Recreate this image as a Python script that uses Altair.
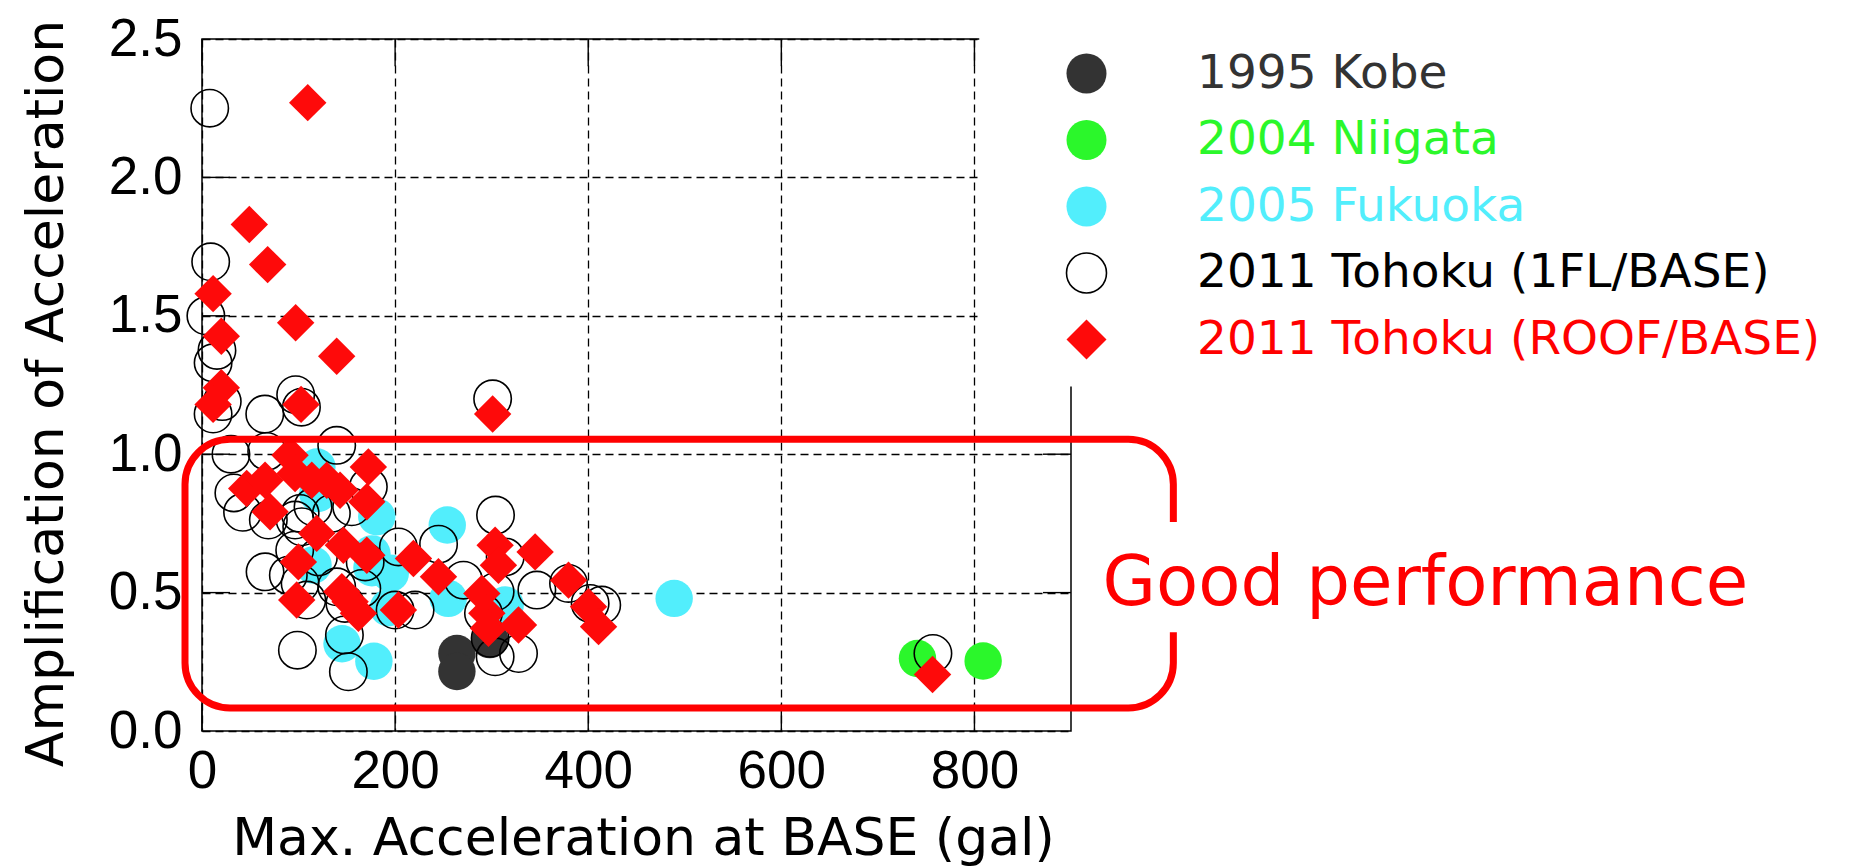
import altair as alt
import pandas as pd

# ---- series names, in legend order ----
SERIES = [
    "1995 Kobe",
    "2004 Niigata",
    "2005 Fukuoka",
    "2011 Tohoku (1FL/BASE)",
    "2011 Tohoku (ROOF/BASE)",
]

# ---- measured values: max. base acceleration (gal) and amplification ----
kobe_x = [264, 264, 298]
kobe_y = [0.28, 0.215, 0.33]

niigata_x = [741, 809]
niigata_y = [0.262, 0.253]

fukuoka_x = [119, 120, 181, 254, 115, 176, 176, 195, 193, 255, 314, 145, 178, 489]
fukuoka_y = [0.954, 0.858, 0.774, 0.744, 0.60, 0.64, 0.59, 0.57, 0.445, 0.479, 0.455, 0.315, 0.252, 0.479]

tohoku_1fl_x = [8, 9, 4, 15.5, 11.5, 21, 11.5, 97, 103, 65, 301,
                139.5, 30, 67,
                33, 42, 68.7, 96.4, 103.3, 101.6, 115, 134, 155, 172.3, 304,
                203.4, 96, 245, 120.6, 169, 314,
                65.3, 89.4, 101.6, 139.5, 165.5, 270.8, 303.6, 346.8, 379.6,
                108.5, 148, 200, 220.7, 291.5, 402, 414,
                147.5, 98.8, 151.6, 298.4, 303.6, 327.8, 757]
tohoku_1fl_y = [2.25, 1.695, 1.50, 1.375, 1.33, 1.19, 1.145, 1.215, 1.17, 1.145, 1.2,
                1.032, 1.0, 1.01,
                0.86, 0.79, 0.762, 0.762, 0.738, 0.786, 0.81, 0.786, 0.81, 0.882, 0.78,
                0.665, 0.653, 0.675, 0.629, 0.611, 0.629,
                0.575, 0.563, 0.533, 0.521, 0.515, 0.545, 0.503, 0.509, 0.533,
                0.473, 0.461, 0.437, 0.437, 0.425, 0.461, 0.455,
                0.347, 0.292, 0.214, 0.335, 0.268, 0.28, 0.28]

tohoku_roof_x = [109.5, 49, 68, 11.5, 97, 20, 139.5, 20, 11.5, 102.6, 301,
                 91.2, 96.4, 113.7, 46.3, 65.3, 70.5, 129.2, 143, 172.3, 170.7,
                 118.8, 146.4, 170.7, 99.8, 98.1, 144.8, 153.4, 162, 203.4, 219,
                 244.9, 303.6, 307, 345, 379.6, 400.3, 410.7, 289.8, 295, 296.7,
                 327.8, 756.6]
tohoku_roof_y = [2.27, 1.83, 1.685, 1.58, 1.475, 1.426, 1.354, 1.24, 1.18, 1.18, 1.145,
                 0.996, 0.93, 0.906, 0.876, 0.906, 0.792, 0.906, 0.87, 0.954, 0.828,
                 0.714, 0.671, 0.635, 0.611, 0.473, 0.503, 0.467, 0.425, 0.437, 0.623,
                 0.557, 0.671, 0.599, 0.647, 0.545, 0.449, 0.377, 0.497, 0.425, 0.371,
                 0.383, 0.204]

# ---- styling per series ----
FILLS = ["#333333", "#2bf72b", "#52eefc", "transparent", "#fe0a0a"]
STROKES = ["transparent", "transparent", "transparent", "black", "transparent"]
SHAPES = ["circle", "circle", "circle", "circle", "diamond"]
LABEL_COLORS = ["#333333", "#2bf72b", "#52eefc", "black", "#ff0000"]

# ---- axes ----
X_TICKS = [0, 200, 400, 600, 800]
Y_TICKS = [0.0, 0.5, 1.0, 1.5, 2.0, 2.5]
X_MAX = 900
Y_MAX = 2.5

# ---- annotation ----
BOX = {"x": -17.6, "x2": 1006, "y": 0.083, "y2": 1.054}
NOTE = {"x": 1267, "y": 0.455, "text": "Good performance"}

rows = []
for i, (name, xs, ys) in enumerate([
    (SERIES[0], kobe_x, kobe_y),
    (SERIES[1], niigata_x, niigata_y),
    (SERIES[2], fukuoka_x, fukuoka_y),
    (SERIES[3], tohoku_1fl_x, tohoku_1fl_y),
    (SERIES[4], tohoku_roof_x, tohoku_roof_y),
]):
    for xv, yv in zip(xs, ys):
        rows.append({"series": name, "x": xv, "y": yv, "layer": i})
points_df = pd.DataFrame(rows)

xscale = alt.Scale(domain=[0, X_MAX], nice=False, zero=False)
yscale = alt.Scale(domain=[0, Y_MAX], nice=False, zero=False)

x_axis = alt.Axis(
    values=X_TICKS, format="d", title="Max. Acceleration at BASE (gal)",
    grid=True, gridDash=[8, 5], gridColor="black", gridWidth=1.3, gridOpacity=1,
    ticks=False, domain=False,
    labelFont="Liberation Sans", labelFontSize=53, labelColor="black",
    labelPadding=14, labelFlush=False, labelOverlap=False,
    titleFont="DejaVu Sans", titleFontSize=52, titleFontWeight="normal",
    titleColor="black", titleX=441, titleY=123, titleBaseline="alphabetic",
    titleAlign="center",
)
y_axis = alt.Axis(
    values=Y_TICKS, format=".1f", title="Amplification of Acceleration",
    grid=True, gridDash=[8, 5], gridColor="black", gridWidth=1.3, gridOpacity=1,
    ticks=False, domain=False,
    labelFont="Liberation Sans", labelFontSize=53, labelColor="black",
    labelPadding=20, labelOverlap=False,
    titleFont="DejaVu Sans", titleFontSize=52, titleFontWeight="normal",
    titleColor="black", titleX=-140, titleY=354, titleAngle=270,
    titleBaseline="alphabetic", titleAlign="center",
)

X = lambda f: alt.X(f, scale=xscale, axis=x_axis)
Y = lambda f: alt.Y(f, scale=yscale, axis=y_axis)

color_expr = " : ".join(
    f"datum.label == '{s}' ? '{c}'" for s, c in zip(SERIES[:-1], LABEL_COLORS[:-1])
) + f" : '{LABEL_COLORS[-1]}'"

legend = alt.Legend(
    title=None, orient="none", legendX=861, legendY=11,
    padding=0, offset=0,
    symbolSize=1600, symbolStrokeWidth=1.6,
    labelFont="DejaVu Sans", labelFontSize=47, labelLimit=1200,
    labelOffset=87, rowPadding=18.5,
    labelColor=alt.ExprRef(expr=color_expr),
)

# inward tick marks on all four sides of the frame
tick_rows = []
for v in X_TICKS:
    tick_rows.append({"x": v, "x2": v, "y": 0, "y2": 0.098})
    tick_rows.append({"x": v, "x2": v, "y": Y_MAX - 0.098, "y2": Y_MAX})
for v in Y_TICKS[1:-1]:
    tick_rows.append({"x": 0, "x2": 29, "y": v, "y2": v})
    tick_rows.append({"x": X_MAX - 29, "x2": X_MAX, "y": v, "y2": v})
ticks = alt.Chart(pd.DataFrame(tick_rows)).mark_rule(color="black", strokeWidth=1.4).encode(
    x=X("x:Q"), x2="x2:Q", y=Y("y:Q"), y2="y2:Q"
)

points = alt.Chart(points_df).mark_point(
    filled=True, opacity=1, size=1400, strokeWidth=1.6
).encode(
    x=X("x:Q"),
    y=Y("y:Q"),
    fill=alt.Fill("series:N", scale=alt.Scale(domain=SERIES, range=FILLS), legend=legend),
    stroke=alt.Stroke("series:N", scale=alt.Scale(domain=SERIES, range=STROKES), legend=legend),
    shape=alt.Shape("series:N", scale=alt.Scale(domain=SERIES, range=SHAPES), legend=legend),
    order=alt.Order("layer:Q"),
)

box = alt.Chart(pd.DataFrame([BOX])).mark_rect(
    fill="transparent", stroke="#ff0000", strokeWidth=7, cornerRadius=45
).encode(x=X("x:Q"), x2="x2:Q", y=Y("y:Q"), y2="y2:Q")

# white panel behind the legend
legend_bg = alt.Chart(pd.DataFrame([{"x": 805, "x2": 1000, "y": 1.245, "y2": 2.535}])).mark_rect(
    fill="white"
).encode(x=X("x:Q"), x2="x2:Q", y=Y("y:Q"), y2="y2:Q")

# white gap in the box edge behind the note
note_bg = alt.Chart(pd.DataFrame([{"x": 996, "x2": 1016, "y": 0.357, "y2": 0.755}])).mark_rect(
    fill="white"
).encode(x=X("x:Q"), x2="x2:Q", y=Y("y:Q"), y2="y2:Q")

note = alt.Chart(pd.DataFrame([NOTE])).mark_text(
    font="DejaVu Sans", fontSize=69, color="#ff0000", align="center", baseline="alphabetic"
).encode(x=X("x:Q"), y=Y("y:Q"), text="text:N")

chart = alt.layer(ticks, points, box, legend_bg, note_bg, note).properties(
    width=869, height=692,
    autosize=alt.AutoSizeParams(type="none"),
    padding={"left": 202, "top": 39, "right": 796, "bottom": 136},
    background="white",
).configure_view(stroke="black", strokeWidth=1.5)

chart.save("out.html", embed_options={"renderer": "svg", "actions": False})
